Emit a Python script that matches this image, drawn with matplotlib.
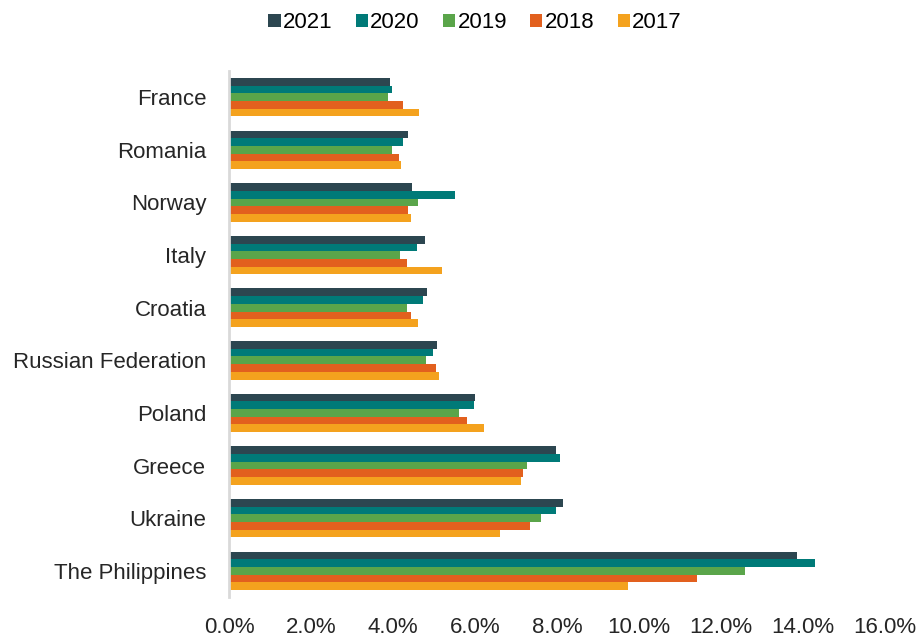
import numpy as np
import matplotlib.pyplot as plt
from matplotlib.ticker import FuncFormatter

plt.rcParams['font.family'] = ['Liberation Sans', 'DejaVu Sans']

countries = ['France', 'Romania', 'Norway', 'Italy', 'Croatia', 'Russian Federation',
             'Poland', 'Greece', 'Ukraine', 'The Philippines']
years = ['2021', '2020', '2019', '2018', '2017']
colors = ['#2C4650', '#007A78', '#5AA54A', '#E2601E', '#F4A21E']

v2021 = [3.93, 4.37, 4.47, 4.77, 4.83, 5.07, 6.00, 7.98, 8.14, 13.85]
v2020 = [3.97, 4.24, 5.51, 4.57, 4.73, 4.97, 5.97, 8.07, 7.98, 14.29]
v2019 = [3.87, 3.97, 4.60, 4.17, 4.34, 4.80, 5.60, 7.26, 7.60, 12.58]
v2018 = [4.24, 4.14, 4.37, 4.34, 4.43, 5.04, 5.80, 7.18, 7.34, 11.41]
v2017 = [4.63, 4.20, 4.43, 5.20, 4.60, 5.13, 6.21, 7.13, 6.60, 9.74]
series = [v2021, v2020, v2019, v2018, v2017]

fig = plt.figure(figsize=(9.17, 6.38), dpi=100)
ax = fig.add_axes([0.250, 0.064, 0.715, 0.825])

# five bars per country, 2021 on top
y = np.arange(len(countries))
h = 0.146
for i, (vals, yr, c) in enumerate(zip(series, years, colors)):
    ax.barh(y + (i - 2) * h, vals, height=h, color=c, label=yr, linewidth=0)

ax.set_ylim(len(countries) - 0.5, -0.5)
ax.set_xlim(0, 16)
ax.set_xticks(np.arange(0, 17, 2))
ax.xaxis.set_major_formatter(FuncFormatter(lambda v, p: f'{v:.1f}%'))
ax.set_yticks(y)
ax.set_yticklabels(countries)
ax.tick_params(axis='both', length=0, labelsize=16, colors='#262626')
ax.tick_params(axis='y', pad=16.5)
ax.tick_params(axis='x', pad=14)

for s in ['top', 'right', 'bottom']:
    ax.spines[s].set_visible(False)
ax.spines['left'].set_color('#D9D9D9')
ax.spines['left'].set_linewidth(2)

fig.legend(loc='upper center', bbox_to_anchor=(0.518, 1.012), ncol=5, frameon=False,
           fontsize=16, handlelength=0.55, handleheight=0.55, handletextpad=0.1,
           columnspacing=1.05)

fig.savefig('out.png', dpi=100)
